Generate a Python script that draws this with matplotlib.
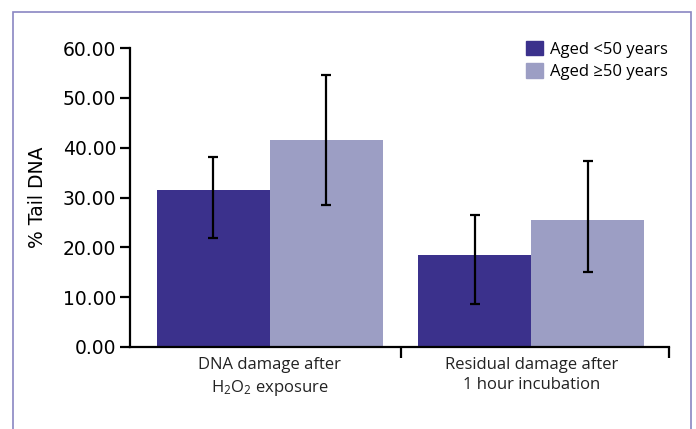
import matplotlib
matplotlib.use("Agg")
from matplotlib import pyplot as plt
from matplotlib.patches import Rectangle, Patch
import numpy as np

categories = ["DNA damage after\nH$_\\mathrm{2}$O$_\\mathrm{2}$ exposure",
              "Residual damage after\n1 hour incubation"]
series_names = ["Aged <50 years", "Aged \u226550 years"]
young_vals = [31.5, 18.5]
young_err_low = [9.6, 9.9]
young_err_high = [6.6, 7.9]
old_vals = [41.6, 25.5]
old_err_low = [13.1, 10.4]
old_err_high = [13.0, 11.8]
yticks = [0, 10, 20, 30, 40, 50, 60]

dark = "#3b318c"
light = "#9c9ec4"
frame = "#8a86c2"

plt.rcParams["mathtext.fontset"] = "custom"
plt.rcParams["mathtext.rm"] = "Open Sans"
plt.rcParams["mathtext.it"] = "Open Sans"

fig = plt.figure(figsize=(6.96, 4.29), dpi=100)
fig.patches.append(Rectangle((13 / 696, -0.1), 678 / 696, 1.1 - 12 / 429,
                             transform=fig.transFigure, fill=False,
                             edgecolor=frame, linewidth=1.2))

ax = fig.add_axes([130 / 696, 1 - 347 / 429, 539 / 696, 299 / 429])

x = np.arange(len(categories))
w = 0.432
ekw = dict(elinewidth=1.6, capsize=3.4, capthick=1.6, ecolor="black")
ax.bar(x - w / 2, young_vals, w, color=dark, label=series_names[0],
       yerr=[young_err_low, young_err_high], error_kw=ekw)
ax.bar(x + w / 2, old_vals, w, color=light, label=series_names[1],
       yerr=[old_err_low, old_err_high], error_kw=ekw)

ax.set_xlim(-0.535, 1.526)
ax.set_ylim(0, 60)
ax.set_yticks(yticks)
ax.set_yticklabels(["%.2f" % v for v in yticks], fontsize=13.5,
                   family="DejaVu Sans")
ax.tick_params(axis="y", direction="out", length=7, width=1.6, pad=3)

# category boundaries as major ticks, names as minor labels
ax.set_xticks([0.5, 1.526])
ax.set_xticklabels(["", ""])
ax.set_xticks(x, minor=True)
ax.set_xticklabels(categories, minor=True, fontsize=12, family="Open Sans",
                   color="#222222", linespacing=1.35)
ax.tick_params(axis="x", which="major", direction="out", length=8, width=1.6)
ax.tick_params(axis="x", which="minor", length=0, pad=7)

for s in ["top", "right"]:
    ax.spines[s].set_visible(False)
for s in ["left", "bottom"]:
    ax.spines[s].set_linewidth(1.6)

ax.set_ylabel("% Tail DNA", fontsize=13.5, family="DejaVu Sans", labelpad=11)

handles = [Patch(color=dark), Patch(color=light)]
ax.legend(handles, series_names, loc="upper right", frameon=False,
          prop={"family": "Open Sans", "size": 12},
          handlelength=1.0, handleheight=1.0, handletextpad=0.4,
          labelspacing=0.3, bbox_to_anchor=(1.025, 1.075))

fig.savefig("out.png", dpi=100)
